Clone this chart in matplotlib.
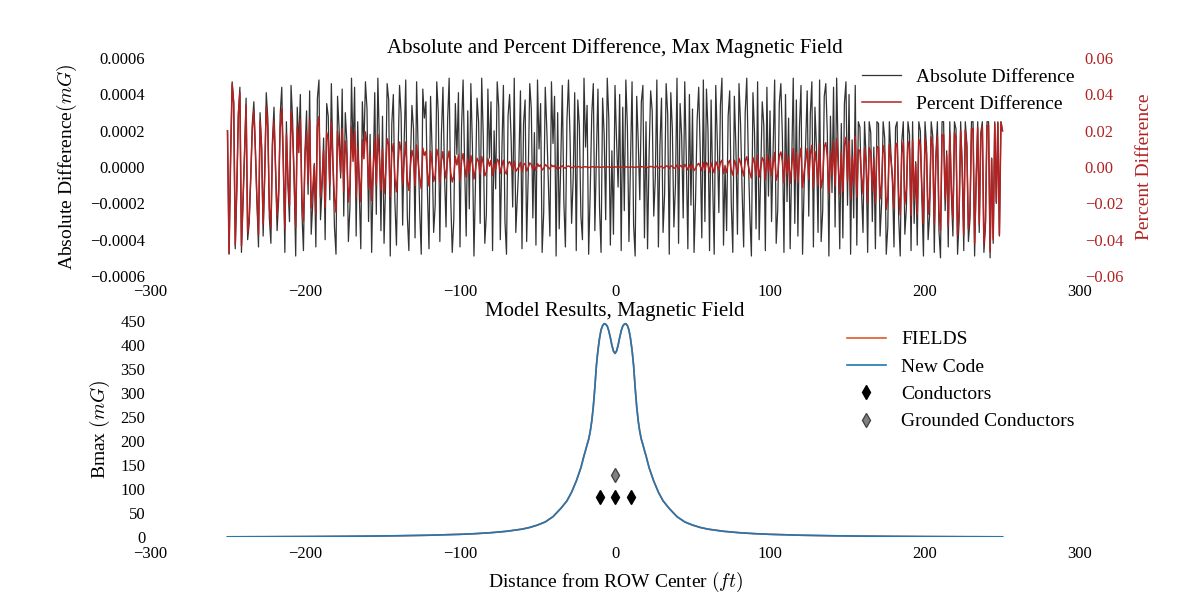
import numpy as np
import matplotlib
matplotlib.use('Agg')
import matplotlib.pyplot as plt

plt.rcParams['font.family'] = ['Liberation Serif', 'DejaVu Serif']
plt.rcParams['mathtext.fontset'] = 'cm'

# absolute difference between FIELDS and new code, units of 1e-5 mG, x = -250..250 ft step 1
abs_diff_e5 = [
    20, -48, 5, 47, 36, -45, -12, 30, 44, -47, -20, 8, 38, -40, -31, -6, 24, 36, 10, -20, -44, 30, 12, -38, -5,
    41, 27, -28, -42, 15, 33, 0, -35, -18, 29, 44, 3, -47, 25, -10, -30, 45, 26, -8, -49, 33, 12, 40, -25, -46,
    9, 31, -15, 42, -37, -20, 2, -44, 38, 48, -29, -12, 16, -40, 35, 28, -18, 46, 4, -33, -48, 39, 21, -6, 43,
    -27, 30, 14, -41, -22, 49, 7, 44, -38, 25, -13, -45, 36, 11, 47, 32, -30, 18, -47, -3, 41, -26, 49, 13, -35,
    28, -42, -9, 46, 37, -49, 24, 40, -19, -43, 6, 45, 29, -32, 15, 48, -27, -46, 2, 34, 21, -39, 47, 10, -24,
    -48, 43, 27, 36, -14, -45, 39, 9, -36, -21, 47, 30, -41, 18, 44, -4, -33, 26, 49, -17, -47, -29, 35, 7, 41,
    -44, 22, 48, 0, -38, 31, -23, 46, 12, -49, -8, 38, 25, -31, 49, 17, -42, -26, 43, 5, 36, -46, 20, -12, 47,
    33, -40, 8, 45, -30, -48, 28, 40, 15, -22, 49, -36, -16, 3, 42, -45, 24, 37, -41, -5, 46, 32, -28, 19, -43,
    48, 10, 35, -47, -25, 44, 21, -9, -38, 47, 13, 39, -49, 30, -34, 2, 45, -19, -44, 26, 48, 16, -31, -7, 41,
    -46, 37, 23, -27, -40, 49, 11, 34, -48, -14, 29, 46, -35, 6, 43, -22, -47, 38, 18, -29, 49, 27, -43, 9, -37,
    45, 15, -11, 40, -46, 33, -24, 48, 22, -41, 4, 47, -32, -49, 39, 14, -18, 36, 45, -39, 25, -45, 7, 42, 31,
    -27, -6, 48, -44, 12, 38, -36, -15, 46, 29, -48, 41, 21, -33, -10, 49, -42, 35, 17, -28, 47, 5, -45, 40, -21,
    32, -47, -17, 26, 44, 8, -39, 48, -30, 43, 20, -46, 37, -8, -48, 45, 14, -25, 34, 49, -43, 1, -35, 28, 42,
    -20, -47, 39, 11, -37, 46, 24, -13, -44, 30, 49, 6, -26, -49, 41, 19, -34, 47, -40, -4, 36, 23, -46, 44, -16,
    31, -30, 9, 48, -42, -23, 35, 46, 16, -47, 40, -19, 27, -45, 3, 49, -31, 37, -38, 22, 45, -48, -11, 13, 42,
    -27, 29, 47, -44, 33, 10, -36, 48, -41, -24, 39, 46, 18, -49, 28, -14, 44, -33, 49, 7, -45, 24, -39, 35, 47,
    -21, 40, -48, 15, -28, 45, -43, 25, 22, -12, -36, 25, 5, -47, 25, 19, -30, 11, -45, 25, 24, -38, -20, 25, 16,
    -48, -33, 25, 8, -9, -44, 22, 25, -27, -49, 14, 25, -37, -22, 25, 18, -46, 25, -31, 3, -43, 25, 20, -18, -49,
    25, 11, -40, -26, 25, 17, -47, 6, 25, -35, -50, 25, 25, -24, 9, -44, 25, -15, -38, 25, 21, -48, -30, 25, 0,
    -46, 25, 13, -41, -29, 25, 25, -49, -8, 25, -36, 19, 25, -47, -33, 25, 25, -50, 5, -42, 25, -20, 25, -38, 25,
    20,
]
x_diff = -250 + np.arange(len(abs_diff_e5))

# Bmax (|x| in ft, mG), curve is symmetric
x_half = [0, 1, 2, 3, 4, 5, 6, 7, 8, 9, 10, 11, 12, 13, 14, 15, 16, 17, 18, 19, 20, 22, 25, 28, 31,
          35, 40, 45, 50, 55, 60, 70, 80, 90, 100, 120, 140, 160, 180, 200, 225, 250]
b_half = [383, 388, 400, 416, 430, 440, 444, 445, 441, 432, 414, 390, 358, 312, 272, 242, 220, 204, 193, 181,
          170, 145, 117, 94, 76, 60, 43, 32, 25.5, 20.5, 17, 12.5, 9.6, 7.6, 6.2, 4.3, 3.2, 2.45, 1.93, 1.56,
          1.23, 1.0]

cond_x = [-10, 0, 10]
cond_y = [84, 84, 84]
gnd_x = [0]
gnd_y = [130]

x_b = np.array([-v for v in x_half[:0:-1]] + x_half)
b_vals = np.array(b_half[:0:-1] + b_half)

abs_diff = np.array(abs_diff_e5) * 1e-5
b_at_diff = np.interp(x_diff, x_b, b_vals)
pct_diff = abs_diff / b_at_diff * 100

red = '#b22222'


def fmt(v, nd):
    s = ('%.' + str(nd) + 'f') % abs(v)
    return ('\u2212' + s) if v < -1e-12 else s


fig = plt.figure(figsize=(12, 6), dpi=100)
ax1 = fig.add_axes([0.125, 0.54, 0.775, 0.363])
ax3 = fig.add_axes([0.125, 0.1045, 0.775, 0.36])

# top: absolute and percent difference
l1, = ax1.plot(x_diff, abs_diff, color='#333333', lw=0.9)
ax1.set_xlim(-300, 300)
ax1.set_ylim(-0.0006, 0.0006)
yt1 = np.linspace(-0.0006, 0.0006, 7)
ax1.set_yticks(yt1)
ax1.set_yticklabels([fmt(v, 4) for v in yt1])
ax1.set_ylabel('Absolute Difference$(mG)$', fontsize=14, labelpad=8)
ax1.set_title('Absolute and Percent Difference, Max Magnetic Field', fontsize=15, pad=4)

ax2 = ax1.twinx()
l2, = ax2.plot(x_diff, pct_diff, color=red, lw=1.1)
ax2.set_ylim(-0.06, 0.06)
yt2 = np.linspace(-0.06, 0.06, 7)
ax2.set_yticks(yt2)
ax2.set_yticklabels([fmt(v, 2) for v in yt2])
ax2.set_ylabel('Percent Difference', color=red, fontsize=14, labelpad=9)
ax2.tick_params(axis='y', colors=red)
ax2.legend([l1, l2], ['Absolute Difference', 'Percent Difference'], loc='upper right',
           frameon=False, fontsize=14, bbox_to_anchor=(1.013, 1.035))

# bottom: model results
ax3.plot(x_b, b_vals, color='#e0582a', lw=1.2, label='FIELDS')
ax3.plot(x_b, b_vals, color='#1f77b4', lw=1.2, label='New Code')
ax3.plot(cond_x, cond_y, 'd', color='black', ms=7, ls='none', label='Conductors')
ax3.plot(gnd_x, gnd_y, 'd', color='gray', mec='#444444', ms=7, ls='none', label='Grounded Conductors')
ax3.set_xlim(-300, 300)
ax3.set_ylim(0, 450)
ax3.set_yticks(range(0, 451, 50))
ax3.set_ylabel('Bmax $(mG)$', fontsize=14, labelpad=6)
ax3.set_xlabel('Distance from ROW Center $(ft)$', fontsize=14, labelpad=6)
ax3.set_title('Model Results, Magnetic Field', fontsize=15, pad=4)
ax3.legend(loc='upper right', frameon=False, fontsize=14, bbox_to_anchor=(1.013, 1.037))

for ax in (ax1, ax2, ax3):
    for s in ax.spines.values():
        s.set_visible(False)
    ax.tick_params(length=0, labelsize=12)
    ax.set_facecolor('none')
ax1.tick_params(axis='x', pad=6)
ax3.tick_params(axis='x', pad=6)
ax1.set_xticks(range(-300, 301, 100))
ax3.set_xticks(range(-300, 301, 100))

fig.savefig('out.png', dpi=100)
